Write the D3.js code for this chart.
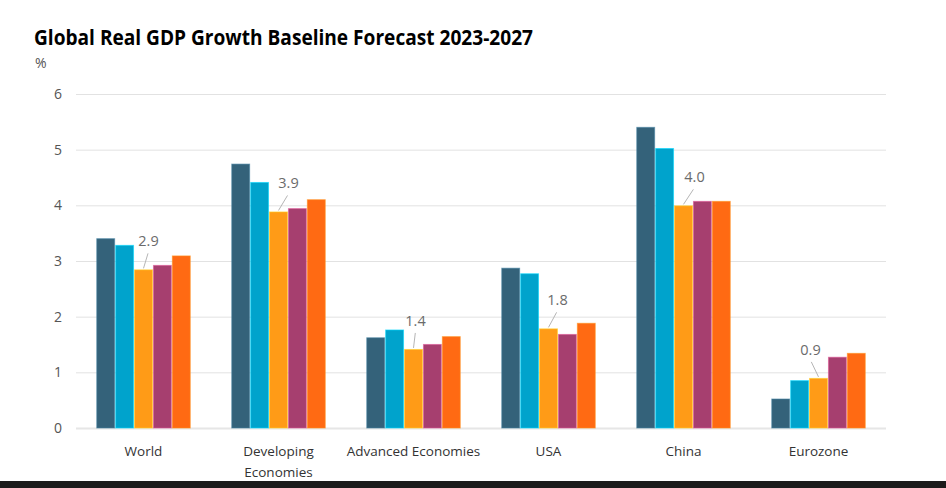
<!DOCTYPE html>
<html><head><meta charset="utf-8">
<script src="https://cdn.jsdelivr.net/npm/d3@7"></script>
<style>
html,body{margin:0;padding:0;background:#fff;overflow:hidden}
svg{display:block}
</style></head>
<body>
<svg id="chart" width="946" height="488"></svg>
<script>
const categories = ["World", "Developing Economies", "Advanced Economies", "USA", "China", "Eurozone"];
const years = ["2023", "2024", "2025", "2026", "2027"];
const s2023 = [3.41, 4.75, 1.63, 2.88, 5.41, 0.53];
const s2024 = [3.29, 4.42, 1.77, 2.78, 5.03, 0.86];
const s2025 = [2.85, 3.89, 1.42, 1.79, 4.00, 0.90];
const s2026 = [2.93, 3.95, 1.51, 1.69, 4.08, 1.28];
const s2027 = [3.10, 4.11, 1.65, 1.89, 4.08, 1.35];
const yTicks = [0, 1, 2, 3, 4, 5, 6];
const labelledYear = "2025";
const labelDx = [5, 10, 2, 9, 11, -8];
const colors = ["#34627A", "#00A3CC", "#FF9B17", "#A63F6F", "#FF6A13"];

const seriesValues = [s2023, s2024, s2025, s2026, s2027];
const svg = d3.select("#chart");
const mLeft = 76, mRight = 886, mTop = 94, mBottom = 428;
const FONT = "'Open Sans', 'Noto Sans', sans-serif";

const x0 = d3.scaleBand().domain(categories).range([mLeft, mRight]).paddingInner(0.3).paddingOuter(0.15);
const x1 = d3.scaleBand().domain(years).range([0, x0.bandwidth()]);
const y = d3.scaleLinear().domain([0, 6]).range([mBottom, mTop]);
const color = d3.scaleOrdinal().domain(years).range(colors);

// title
svg.append("text").attr("x", 34).attr("y", 45)
  .attr("font-family", FONT).attr("font-weight", 700)
  .attr("font-size", 22).attr("fill", "#000")
  .attr("textLength", 499).attr("lengthAdjust", "spacingAndGlyphs")
  .text("Global Real GDP Growth Baseline Forecast 2023-2027");
svg.append("text").attr("x", 35).attr("y", 68)
  .attr("font-family", FONT).attr("font-size", 14).attr("fill", "#555")
  .text("%");

// gridlines + y axis
const yAxis = d3.axisLeft(y).tickValues(yTicks).tickSize(-(mRight - mLeft)).tickPadding(14).tickFormat(d3.format("d"));
const gy = svg.append("g").attr("transform", `translate(${mLeft},0)`).call(yAxis);
gy.select(".domain").remove();
gy.selectAll(".tick line").attr("stroke", "#e2e2e2").attr("stroke-width", 1);
gy.selectAll(".tick").filter(d => d === 0).select("line").attr("stroke", "#e6e6e6").attr("stroke-width", 2);
gy.selectAll(".tick text").attr("font-family", FONT).attr("font-size", 14).attr("fill", "#555");

// bars
const rows = categories.map((c, i) => ({cat: c, i, vals: years.map((yr, j) => ({yr, v: seriesValues[j][i]}))}));
const groups = svg.append("g").selectAll("g").data(rows).join("g")
  .attr("transform", d => `translate(${x0(d.cat)},0)`);
groups.selectAll("rect").data(d => d.vals).join("rect")
  .attr("x", d => x1(d.yr) + 0.5)
  .attr("width", x1.bandwidth() - 1)
  .attr("y", d => y(d.v) + 0.5)
  .attr("height", d => y(0) - y(d.v) - 0.5)
  .attr("fill", d => color(d.yr))
  .attr("stroke", d => d3.color(color(d.yr)).brighter(0.8))
  .attr("stroke-opacity", 0.6)
  .attr("stroke-width", 1);

// data labels with leader lines
groups.each(function(d) {
  const g = d3.select(this);
  const v = d.vals.find(e => e.yr === labelledYear).v;
  const bx = x1(labelledYear) + x1.bandwidth() / 2;
  const by = y(v);
  const lx = bx + labelDx[d.i];
  const ly = by - 23;
  g.append("line").attr("x1", bx).attr("y1", by - 1).attr("x2", bx + labelDx[d.i] * 0.9).attr("y2", ly + 7)
    .attr("stroke", "#b5b5b5").attr("stroke-width", 1);
  g.append("text").attr("x", lx).attr("y", ly).attr("text-anchor", "middle")
    .attr("font-family", FONT).attr("font-size", 14.5).attr("fill", "#6b6b6b")
    .text(d3.format(".1f")(v));
});

// category labels
const catG = svg.append("g");
categories.forEach(c => {
  const cx = x0(c) + x0.bandwidth() / 2;
  const t = catG.append("text").attr("x", cx).attr("y", 456)
    .attr("text-anchor", "middle")
    .attr("font-family", FONT).attr("font-size", 13.5).attr("fill", "#333");
  const words = c.split(" ");
  let line = [], tspan = t.append("tspan").attr("x", cx).attr("dy", 0);
  words.forEach(w => {
    line.push(w);
    tspan.text(line.join(" "));
    if (tspan.node().getComputedTextLength() > x0.step() && line.length > 1) {
      line.pop();
      tspan.text(line.join(" "));
      line = [w];
      tspan = t.append("tspan").attr("x", cx).attr("dy", 21).text(w);
    }
  });
});

// bottom strip
svg.append("rect").attr("x", 0).attr("y", 481).attr("width", 946).attr("height", 7).attr("fill", "#1b1b1b");
</script>
</body></html>
